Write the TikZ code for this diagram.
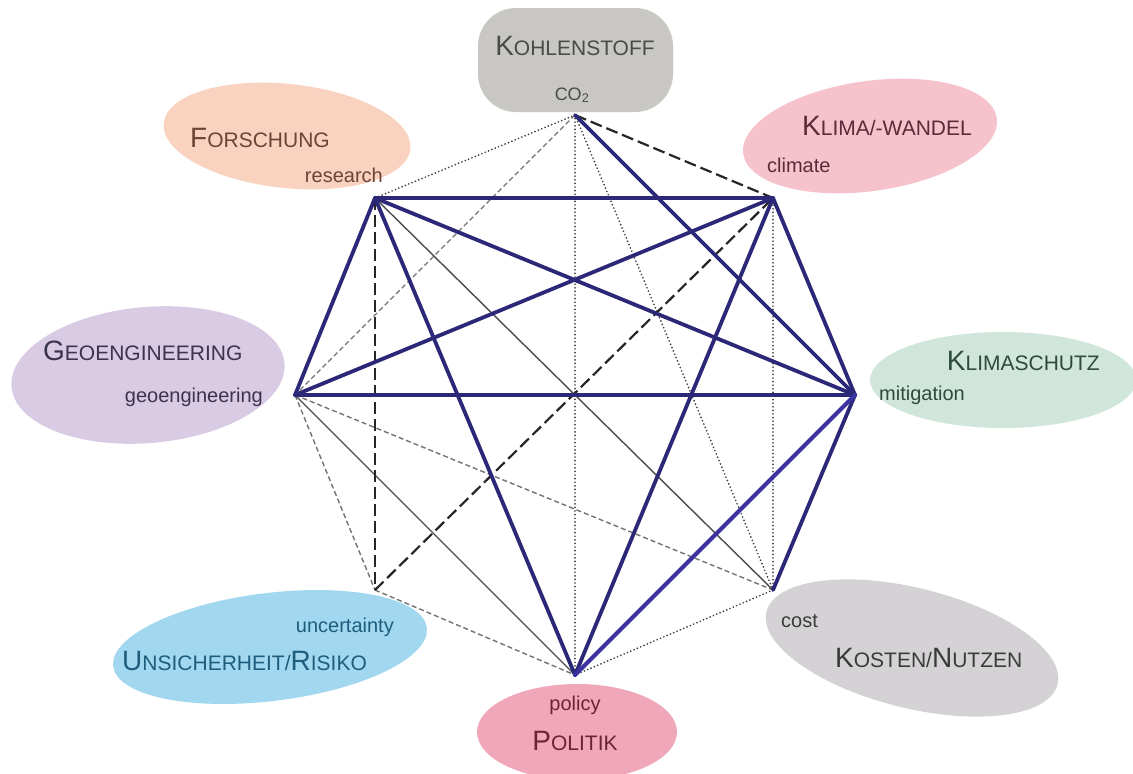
\documentclass[tikz,border=0pt]{standalone}
\usepackage{fontspec}
\setmainfont{Liberation Sans}
\definecolor{navy}{HTML}{2B2878}
\definecolor{navyb}{HTML}{3A32A0}
\definecolor{fKohle}{HTML}{C9C7C4}
\definecolor{fForsch}{HTML}{F9D2C0}
\definecolor{fKlima}{HTML}{F6C2CC}
\definecolor{fGeo}{HTML}{D9CBE3}
\definecolor{fSchutz}{HTML}{D0E6DA}
\definecolor{fUnsich}{HTML}{A1D8EF}
\definecolor{fKosten}{HTML}{D5D2D6}
\definecolor{fPolitik}{HTML}{F0A7B9}
\definecolor{tKohle}{HTML}{4A4A4A}
\definecolor{tForsch}{HTML}{6E4535}
\definecolor{tKlima}{HTML}{5B2B3A}
\definecolor{tGeo}{HTML}{3B3350}
\definecolor{tSchutz}{HTML}{2D4A3C}
\definecolor{tUnsich}{HTML}{1F5D7D}
\definecolor{tKosten}{HTML}{3A3A3A}
\definecolor{tPolitik}{HTML}{6A2436}
\newcommand{\MySC}[2]{{\fontsize{28}{30}\selectfont #1}{\fontsize{21}{24}\selectfont #2}}
\begin{document}
\begin{tikzpicture}[x=1pt,y=-1pt,
  thickln/.style={draw=navy, line width=3.8pt, line cap=round},
  brightln/.style={draw=navyb, line width=4.2pt, line cap=round},
  thinln/.style={draw=black!70, line width=1.4pt},
  dashln/.style={draw=black!85, line width=2.2pt, dash pattern=on 12pt off 5pt},
  fineln/.style={draw=black!55, line width=1.4pt, dash pattern=on 5pt off 3pt},
  dotln/.style={draw=black!75, line width=1.9pt, line cap=round, dash pattern=on 0pt off 3.6pt}]
\useasboundingbox (0,0) rectangle (1133,774);
\fill[white] (0,0) rectangle (1133,774);
% blobs
\fill[fKohle, rounded corners=38pt] (478,8) rectangle (673,112);
\fill[fForsch, rotate around={-6:(287,136)}] (287,136) ellipse [x radius=124, y radius=52];
\fill[fKlima, rotate around={8:(870,136)}] (870,136) ellipse [x radius=128, y radius=55];
\fill[fGeo, rotate around={5:(148,375)}] (148,375) ellipse [x radius=137, y radius=68];
\fill[fSchutz] (1003,380) ellipse [x radius=133, y radius=48];
\fill[fUnsich, rotate around={7:(270,647)}] (270,647) ellipse [x radius=158, y radius=54];
\fill[fKosten, rotate around={-14:(912,648)}] (912,648) ellipse [x radius=150, y radius=60];
\fill[fPolitik] (577,732) ellipse [x radius=100, y radius=48];
% vertices
\coordinate (C) at (575,115);
\coordinate (R) at (375,198);
\coordinate (K) at (773,198);
\coordinate (G) at (295,395);
\coordinate (M) at (855,395);
\coordinate (U) at (375,590);
\coordinate (O) at (773,590);
\coordinate (P) at (575,675);
% dotted
\draw[dotln] (C) -- (R);
\draw[dotln] (C) -- (P);
\draw[dotln] (C) -- (O);
\draw[dotln] (K) -- (O);
\draw[dotln] (O) -- (P);
% fine dashed
\draw[fineln] (C) -- (G);
\draw[fineln] (G) -- (U);
\draw[fineln] (G) -- (O);
\draw[fineln] (U) -- (P);
% thin solid
\draw[thinln] (R) -- (O);
\draw[thinln] (G) -- (P);
% dashed black
\draw[dashln] (C) -- (K);
\draw[dashln] (U) -- (K);
\draw[dashln] (R) -- (U);
% thick
\draw[thickln] (R) -- (K);
\draw[thickln] (R) -- (G);
\draw[thickln] (R) -- (M);
\draw[thickln] (R) -- (P);
\draw[thickln] (G) -- (M);
\draw[thickln] (G) -- (K);
\draw[thickln] (C) -- (M);
\draw[thickln] (K) -- (M);
\draw[thickln] (K) -- (P);
\draw[thickln] (M) -- (O);
\draw[brightln] (P) -- (M);
% texts
\node[anchor=base, text=tKohle, inner sep=0pt] (tKo) at (575,55) {\MySC{K}{OHLENSTOFF}};
\node[anchor=base, text=tKohle, inner sep=0pt, font=\fontsize{18}{20}\selectfont] (tCO) at (572,100) {CO\textsubscript{2}};
\node[anchor=base west, text=tForsch, inner sep=0pt] (tFo) at (190,147) {\MySC{F}{ORSCHUNG}};
\node[anchor=base east, text=tForsch, inner sep=0pt, font=\fontsize{20}{24}\selectfont] (tre) at (383,182) {research};
\node[anchor=base west, text=tKlima, inner sep=0pt] (tKl) at (802,135) {\MySC{K}{LIMA/-WANDEL}};
\node[anchor=base west, text=tKlima, inner sep=0pt, font=\fontsize{20}{24}\selectfont] (tcl) at (767,172) {climate};
\node[anchor=base west, text=tGeo, inner sep=0pt] (tGe) at (43,360) {\MySC{G}{EOENGINEERING}};
\node[anchor=base east, text=tGeo, inner sep=0pt, font=\fontsize{20}{24}\selectfont] (tge) at (263,402) {geoengineering};
\node[anchor=base east, text=tSchutz, inner sep=0pt] (tKs) at (1100,370) {\MySC{K}{LIMASCHUTZ}};
\node[anchor=base west, text=tSchutz, inner sep=0pt, font=\fontsize{20}{24}\selectfont] (tmi) at (879,400) {mitigation};
\node[anchor=base east, text=tUnsich, inner sep=0pt, font=\fontsize{20}{24}\selectfont] (tun) at (394,632) {uncertainty};
\node[anchor=base west, text=tUnsich, inner sep=0pt] (tUn) at (122,670) {\MySC{U}{NSICHERHEIT/}\MySC{R}{ISIKO}};
\node[anchor=base west, text=tKosten, inner sep=0pt, font=\fontsize{20}{24}\selectfont] (tco) at (781,627) {cost};
\node[anchor=base west, text=tKosten, inner sep=0pt] (tKn) at (835,667) {\MySC{K}{OSTEN/}\MySC{N}{UTZEN}};
\node[anchor=base, text=tPolitik, inner sep=0pt, font=\fontsize{20}{24}\selectfont] (tpo) at (575,710) {policy};
\node[anchor=base, text=tPolitik, inner sep=0pt] (tPo) at (575,750) {\MySC{P}{OLITIK}};
\end{tikzpicture}
\end{document}
